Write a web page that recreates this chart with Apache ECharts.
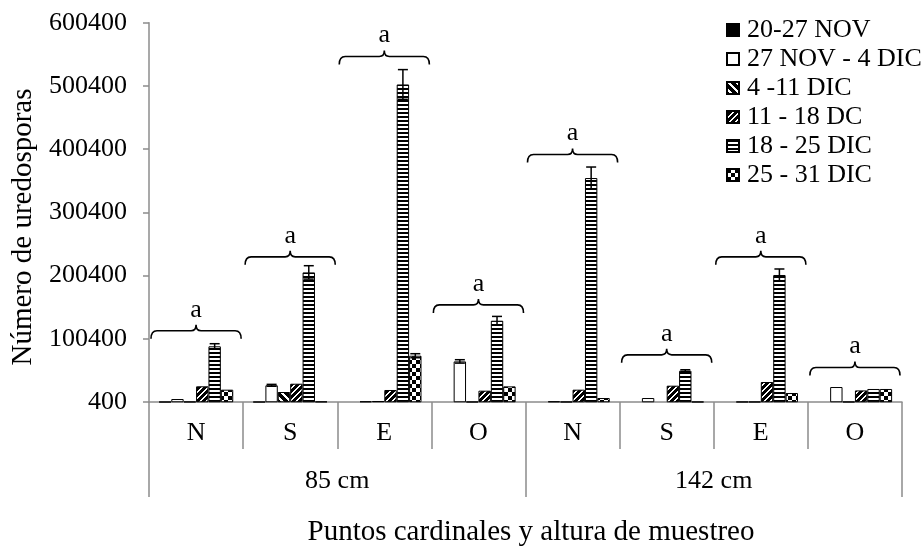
<!DOCTYPE html>
<html>
<head>
<meta charset="utf-8">
<script src="https://cdn.jsdelivr.net/npm/echarts@6/dist/echarts.min.js"></script>
<style>
html,body{margin:0;padding:0;background:#fff;}
#chart{width:924px;height:548px;}
</style>
</head>
<body>
<div id="chart"></div>
<script>
// ---- data ----
const heights = ['85 cm', '142 cm'];
const directions = ['N', 'S', 'E', 'O', 'N', 'S', 'E', 'O'];
const seriesNames = ['20-27 NOV', '27 NOV - 4 DIC', '4 -11 DIC', '11 - 18 DC', '18 - 25 DIC', '25 - 31 DIC'];
const v_20_27nov  = [800, 800, 600, 500, 500, 500, 500, 500];
const v_27nov_4dic = [5100, 26800, 1500, 64600, 1500, 6700, 900, 24100];
const v_4_11dic   = [1000, 16200, 2000, 900, 900, 700, 900, 900];
const v_11_18dc   = [25200, 29300, 19400, 18300, 19900, 26200, 32000, 18700];
const v_18_25dic  = [88500, 205400, 502700, 129000, 354700, 49900, 201300, 21000];
const v_25_31dic  = [19900, 1200, 73600, 25100, 6700, 900, 14600, 21000];
const e_20_27nov  = [0, 0, 0, 0, 0, 0, 0, 0];
const e_27nov_4dic = [0, 1500, 0, 2700, 0, 0, 0, 0];
const e_4_11dic   = [0, 0, 0, 0, 0, 0, 0, 0];
const e_11_18dc   = [0, 0, 0, 0, 0, 0, 0, 0];
const e_18_25dic  = [4100, 10600, 23500, 6800, 17400, 1500, 9500, 0];
const e_25_31dic  = [0, 0, 3200, 0, 0, 0, 0, 0];
const bracketLevels = [113000, 230000, 547000, 154000, 392000, 75000, 230000, 55000];
const bracketLabels = ['a', 'a', 'a', 'a', 'a', 'a', 'a', 'a'];
const yTicks = [400, 100400, 200400, 300400, 400400, 500400, 600400];
const yMin = 400, yMax = 600400;
const xTitle = 'Puntos cardinales y altura de muestreo';
const yTitle = 'Número de uredosporas';

const values = [v_20_27nov, v_27nov_4dic, v_4_11dic, v_11_18dc, v_18_25dic, v_25_31dic];
const errors = [e_20_27nov, e_27nov_4dic, e_4_11dic, e_11_18dc, e_18_25dic, e_25_31dic];

// ---- patterns ----
function pattern(w, h, isBlack) {
  const c = document.createElement('canvas');
  c.width = w; c.height = h;
  const g = c.getContext('2d');
  g.fillStyle = '#fff'; g.fillRect(0, 0, w, h);
  g.fillStyle = '#000';
  for (let y = 0; y < h; y++) for (let x = 0; x < w; x++) if (isBlack(x, y)) g.fillRect(x, y, 1, 1);
  return { image: c, repeat: 'repeat' };
}
const fills = [
  '#000000',
  '#ffffff',
  pattern(8, 8, (x, y) => ((x - y + 8) % 8) >= 3),
  pattern(6, 6, (x, y) => ((x + y) % 6) >= 2),
  pattern(4, 4, (x, y) => y < 2),
  pattern(8, 8, (x, y) => (x < 4) === (y < 4))
];

const FONT = 'Liberation Serif';
const axisGray = '#8c8c8c';
const catGap = 0.21;
const nSeries = seriesNames.length;

const barSeries = seriesNames.map((name, i) => ({
  name: name,
  type: 'bar',
  data: values[i],
  barGap: 0,
  barCategoryGap: (catGap * 100) + '%',
  itemStyle: { color: fills[i], borderColor: '#000', borderWidth: 1 },
  emphasis: { disabled: true },
  z: 2
}));

const errData = [];
errors.forEach((arr, si) => arr.forEach((e, ci) => { if (e > 0) errData.push([ci, values[si][ci], e, si]); }));

const errorSeries = {
  type: 'custom',
  name: 'err',
  data: errData,
  z: 5,
  silent: true,
  renderItem: function (params, api) {
    const ci = api.value(0), v = api.value(1), e = api.value(2), si = api.value(3);
    const catW = api.size([1, 0])[0];
    const bw = catW * (1 - catGap) / nSeries;
    const c = api.coord([ci, v]);
    const cx = c[0] + (si - (nSeries - 1) / 2) * bw;
    const top = api.coord([ci, v + e])[1];
    const bot = api.coord([ci, Math.max(v - e, yMin)])[1];
    const cap = 5;
    const st = { stroke: '#000', lineWidth: 1.5 };
    return { type: 'group', children: [
      { type: 'line', shape: { x1: cx, y1: top, x2: cx, y2: bot }, style: st },
      { type: 'line', shape: { x1: cx - cap, y1: top, x2: cx + cap, y2: top }, style: st },
      { type: 'line', shape: { x1: cx - cap, y1: bot, x2: cx + cap, y2: bot }, style: st }
    ]};
  }
};

const bracketSeries = {
  type: 'custom',
  name: 'brackets',
  data: bracketLevels.map((v, i) => [i, v]),
  z: 6,
  silent: true,
  renderItem: function (params, api) {
    const ci = api.value(0), v = api.value(1);
    const p = api.coord([ci, v]);
    const w = api.size([1, 0])[0];
    const x0 = p[0] - w / 2 + 2, x1 = p[0] + w / 2 - 2, y = p[1], cx = p[0];
    const d = 'M' + x0 + ' ' + (y + 8) + ' Q' + x0 + ' ' + y + ' ' + (x0 + 6) + ' ' + y +
      ' L' + (cx - 5) + ' ' + y + ' Q' + cx + ' ' + y + ' ' + cx + ' ' + (y - 6) +
      ' Q' + cx + ' ' + y + ' ' + (cx + 5) + ' ' + y +
      ' L' + (x1 - 6) + ' ' + y + ' Q' + x1 + ' ' + y + ' ' + x1 + ' ' + (y + 8);
    return { type: 'group', children: [
      { type: 'path', shape: { pathData: d }, style: { stroke: '#000', lineWidth: 1.6, fill: null } },
      { type: 'text', x: cx, y: y - 21, style: { text: bracketLabels[ci], font: '26px "' + FONT + '"', fill: '#000', align: 'center', verticalAlign: 'middle' } }
    ]};
  }
};

const chart = echarts.init(document.getElementById('chart'), null, { renderer: 'canvas' });
chart.setOption({
  animation: false,
  backgroundColor: '#fff',
  textStyle: { fontFamily: FONT, color: '#000' },
  grid: { left: 149, right: 22, top: 22.7, bottom: 146, containLabel: false },
  legend: {
    orient: 'vertical', left: 721, top: 10.5,
    itemWidth: 12, itemHeight: 12, itemGap: 0,
    icon: 'rect',
    data: seriesNames,
    selectedMode: false,
    textStyle: { fontFamily: FONT, fontSize: 26, lineHeight: 29, color: '#000', padding: [0, 0, 0, 3] }
  },
  xAxis: [
    {
      type: 'category', data: directions, position: 'bottom',
      axisLine: { show: true, lineStyle: { color: axisGray, width: 1.5 } },
      axisTick: { show: true, interval: 0, length: 47, lineStyle: { color: axisGray, width: 1.5 } },
      axisLabel: { interval: 0, fontSize: 26, margin: 18, color: '#000', fontFamily: FONT },
      splitLine: { show: false }
    },
    {
      type: 'category', data: heights, position: 'bottom', offset: 47,
      axisLine: { show: false },
      axisTick: { show: true, interval: 0, length: 48, lineStyle: { color: axisGray, width: 1.5 } },
      axisLabel: { interval: 0, fontSize: 26, margin: 19, color: '#000', fontFamily: FONT },
      splitLine: { show: false }
    }
  ],
  yAxis: {
    type: 'value', min: yMin, max: yMax,
    axisLine: { show: true, lineStyle: { color: axisGray, width: 1.5 } },
    axisTick: { show: true, length: 6, customValues: yTicks, lineStyle: { color: axisGray, width: 1.5 } },
    axisLabel: { customValues: yTicks, fontSize: 26, margin: 22, color: '#000', fontFamily: FONT,
      formatter: function (v) { return String(v); } },
    splitLine: { show: false }
  },
  series: barSeries.concat([errorSeries, bracketSeries]),
  graphic: [
    { type: 'text', x: 23, y: 227, rotation: Math.PI / 2,
      style: { text: yTitle, font: '29px "' + FONT + '"', fill: '#000', align: 'center', verticalAlign: 'middle' } },
    { type: 'text', x: 531, y: 532,
      style: { text: xTitle, font: '29px "' + FONT + '"', fill: '#000', align: 'center', verticalAlign: 'middle' } }
  ]
});
</script>
</body>
</html>
